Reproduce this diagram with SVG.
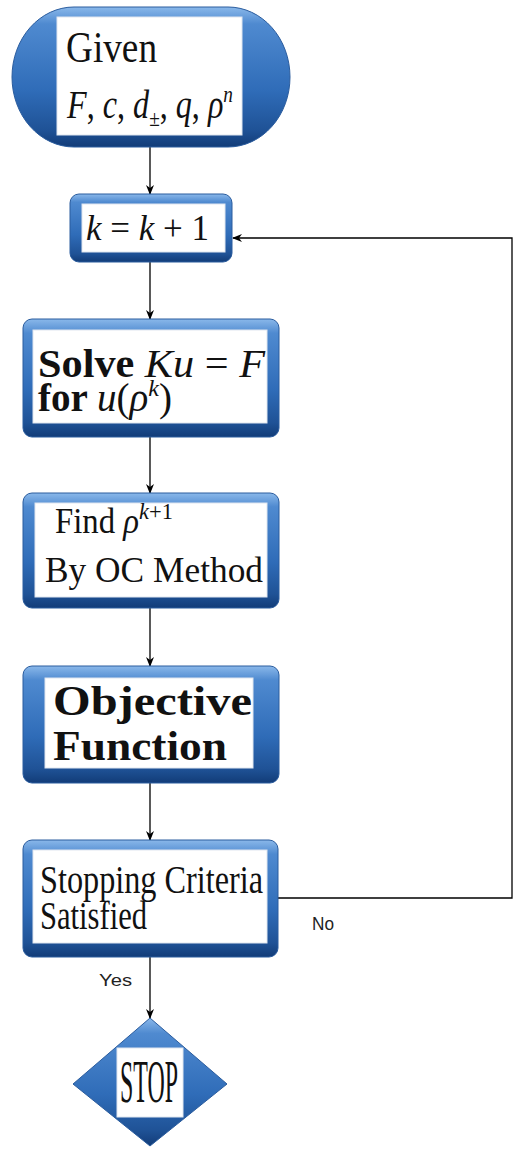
<svg xmlns="http://www.w3.org/2000/svg" width="514" height="1149" viewBox="0 0 514 1149">
<style>
.frame{fill:url(#blue);stroke:#2a5c9e;stroke-width:1}
.inner{fill:#ffffff;stroke:#dfe6ef;stroke-width:1}
.serif{font-family:"Liberation Serif","DejaVu Serif",serif;fill:#111}
.sans{font-family:"Liberation Sans","DejaVu Sans",sans-serif;fill:#222}
.it{font-style:italic}
.conn{stroke:#000;stroke-width:1.3;fill:none}
</style>
<defs>
<linearGradient id="blue" x1="0" y1="0" x2="0" y2="1">
<stop offset="0" stop-color="#8ab8ea"/>
<stop offset="0.12" stop-color="#4f8ad0"/>
<stop offset="0.6" stop-color="#2f6cb8"/>
<stop offset="0.88" stop-color="#1f5296"/>
<stop offset="1" stop-color="#123c78"/>
</linearGradient>
<marker id="arr" markerWidth="10" markerHeight="10" refX="9" refY="5" orient="auto" markerUnits="userSpaceOnUse">
<path d="M0,1 L10,5 L0,9 L3,5 Z" fill="#000"/>
</marker>
</defs>

<g id="connectors">
<line class="conn" x1="150" y1="147" x2="150" y2="194" marker-end="url(#arr)"/>
<line class="conn" x1="150" y1="262" x2="150" y2="319" marker-end="url(#arr)"/>
<line class="conn" x1="150" y1="437" x2="150" y2="493" marker-end="url(#arr)"/>
<line class="conn" x1="150" y1="608" x2="150" y2="666" marker-end="url(#arr)"/>
<line class="conn" x1="150" y1="783" x2="150" y2="840" marker-end="url(#arr)"/>
<line class="conn" x1="150" y1="957" x2="150" y2="1018" marker-end="url(#arr)"/>
<polyline class="conn" points="278,898 512,898 512,238 233,238" marker-end="url(#arr)"/>
<text class="sans" x="99" y="986" font-size="16" textLength="33" lengthAdjust="spacingAndGlyphs">Yes</text>
<text class="sans" x="312" y="930" font-size="18" textLength="22" lengthAdjust="spacingAndGlyphs">No</text>
</g>

<g id="start">
<rect class="frame" x="12" y="7" width="278" height="140" rx="62" ry="70"/>
<rect class="inner" x="57" y="17" width="185" height="118"/>
<text class="serif" x="66" y="62" font-size="44" textLength="91" lengthAdjust="spacingAndGlyphs">Given</text>
<text class="serif" x="67" y="118" font-size="40" textLength="166" lengthAdjust="spacingAndGlyphs"><tspan class="it">F</tspan>, <tspan class="it">c</tspan>, <tspan class="it">d</tspan><tspan font-size="24" dy="8">±</tspan><tspan dy="-8">, </tspan><tspan class="it">q</tspan>, <tspan class="it">ρ</tspan><tspan class="it" font-size="24" dy="-16">n</tspan></text>
</g>

<g id="increment">
<rect class="frame" x="70" y="194" width="162" height="68" rx="9"/>
<rect class="inner" x="82" y="204" width="143" height="48"/>
<text class="serif" x="86" y="240" font-size="36" textLength="123" lengthAdjust="spacingAndGlyphs"><tspan class="it">k</tspan> = <tspan class="it">k</tspan> + 1</text>
</g>

<g id="solve">
<rect class="frame" x="23" y="319" width="256" height="118" rx="9"/>
<rect class="inner" x="33" y="330" width="234" height="93"/>
<text class="serif" x="38" y="377" font-size="41" textLength="227" lengthAdjust="spacingAndGlyphs"><tspan font-weight="bold">Solve </tspan><tspan class="it">Ku</tspan> = <tspan class="it">F</tspan></text>
<text class="serif" x="38" y="411" font-size="39" textLength="134" lengthAdjust="spacingAndGlyphs"><tspan font-weight="bold">for </tspan><tspan class="it">u</tspan>(<tspan class="it">ρ</tspan><tspan class="it" font-size="24" dy="-15">k</tspan><tspan dy="15">)</tspan></text>
</g>

<g id="find">
<rect class="frame" x="23" y="493" width="256" height="115" rx="9"/>
<rect class="inner" x="35" y="503" width="232" height="94"/>
<text class="serif" x="55" y="533" font-size="35" textLength="118" lengthAdjust="spacingAndGlyphs">Find <tspan class="it">ρ</tspan><tspan class="it" font-size="24" dy="-14">k</tspan><tspan font-size="24">+1</tspan></text>
<text class="serif" x="45" y="582" font-size="36" textLength="218" lengthAdjust="spacingAndGlyphs">By OC Method</text>
</g>

<g id="objective">
<rect class="frame" x="23" y="666" width="256" height="117" rx="9"/>
<rect class="inner" x="45" y="678" width="208" height="90"/>
<text class="serif" x="53" y="715" font-size="43" font-weight="bold" textLength="199" lengthAdjust="spacingAndGlyphs">Objective</text>
<text class="serif" x="53" y="760" font-size="43" font-weight="bold" textLength="174" lengthAdjust="spacingAndGlyphs">Function</text>
</g>

<g id="stopping">
<rect class="frame" x="23" y="840" width="255" height="117" rx="9"/>
<rect class="inner" x="33" y="850" width="234" height="93"/>
<text class="serif" x="40" y="893" font-size="41" textLength="223" lengthAdjust="spacingAndGlyphs">Stopping Criteria</text>
<text class="serif" x="40" y="929" font-size="41" textLength="107" lengthAdjust="spacingAndGlyphs">Satisfied</text>
</g>

<g id="stop">
<path class="frame" d="M150,1018 L227,1084 L150,1146 L73,1084 Z" stroke-linejoin="round" stroke-width="4"/>
<rect class="inner" x="117" y="1048" width="66" height="69"/>
<text class="serif" x="120" y="1102" font-size="62" textLength="58" lengthAdjust="spacingAndGlyphs">STOP</text>
</g>
</svg>
